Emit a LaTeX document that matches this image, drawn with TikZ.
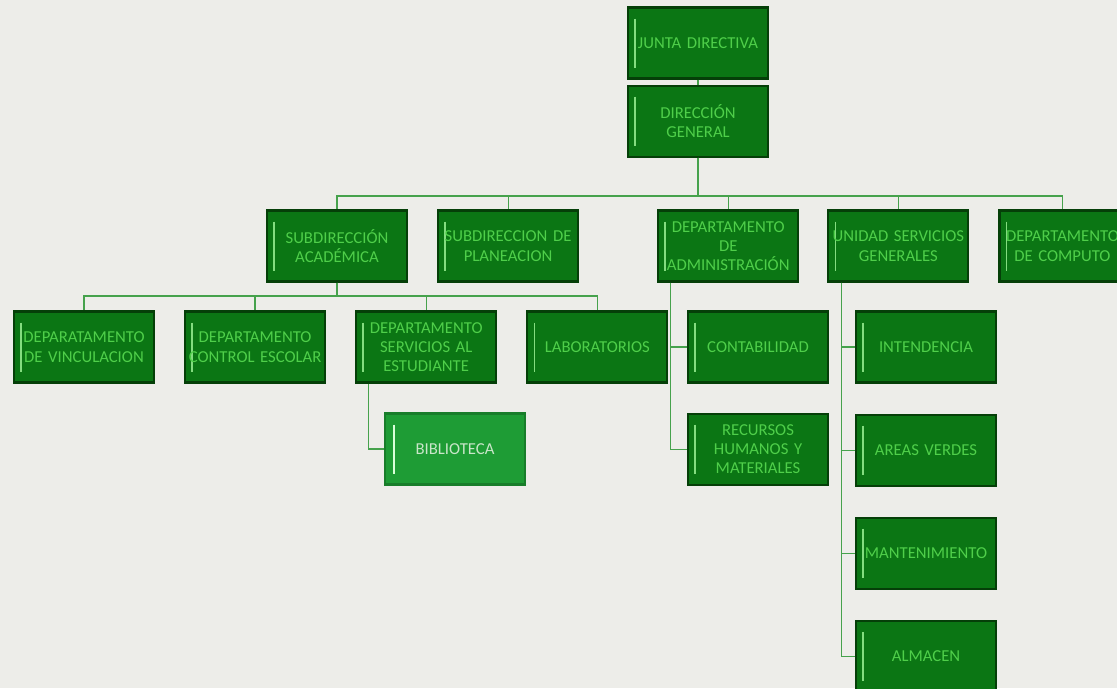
\documentclass[tikz,border=0pt]{standalone}
\usepackage{fontspec}
\setmainfont{Carlito}
\usepackage{xcolor}
\usepackage{tikz}
\usetikzlibrary{positioning}
\definecolor{PaperWhite}{HTML}{EDEDE9}
\definecolor{BoxGreen}{HTML}{0B7614}
\definecolor{EdgeGreen}{HTML}{053F08}
\definecolor{TextGreen}{HTML}{4FCF4A}
\definecolor{LineGreen}{HTML}{46A24C}
\definecolor{LightBox}{HTML}{1E9C35}
\definecolor{LightText}{HTML}{C9E6C9}

\begin{document}
\begin{tikzpicture}[node distance=0.58cm,
        unit/.style={rectangle, draw=EdgeGreen, line width=1.2pt, fill=BoxGreen, text=TextGreen, minimum width=2.8cm, minimum height=1.42cm, text width=2.7cm, inner sep=0pt, align=center, font=\fontsize{9.5}{11}\selectfont,
            path picture={\draw[TextGreen!70!white, line width=0.9pt] ([xshift=0.14cm,yshift=-0.22cm]path picture bounding box.north west) -- ([xshift=0.14cm,yshift=0.22cm]path picture bounding box.south west);}},
        libro/.style={unit, draw=LightBox!80!black, fill=LightBox, text=LightText,
            path picture={\draw[white!85!green, line width=1.2pt] ([xshift=0.18cm,yshift=-0.22cm]path picture bounding box.north west) -- ([xshift=0.18cm,yshift=0.22cm]path picture bounding box.south west);}},
        link/.style={draw=LineGreen, line width=0.7pt}
    ]
        \fill[PaperWhite] (0,0) rectangle (22.34,-13.76);
        \useasboundingbox (0,0) rectangle (22.34,-13.76);

        \node [unit] (junta) at (13.96,-0.86) {JUNTA DIRECTIVA};
        \node [unit, below=0.1cm of junta] (direccion) {DIRECCIÓN\\GENERAL};

        \node [unit] (academica) at (6.74,-4.92) {SUBDIRECCIÓN\\ACADÉMICA};
        \node [unit, right=of academica] (planeacion) {SUBDIRECCION DE\\PLANEACION};
        \node [unit, right=1.56cm of planeacion] (administracion) {DEPARTAMENTO\\DE\\ADMINISTRACIÓN};
        \node [unit, right=0.56cm of administracion] (servgen) {UNIDAD SERVICIOS\\GENERALES};
        \node [unit, right=of servgen, minimum width=2.52cm, text width=2.5cm] (computo) {DEPARTAMENTO\\DE COMPUTO};

        \node [unit] (vinculacion) at (1.68,-6.94) {DEPARATAMENTO\\DE VINCULACION};
        \node [unit, right=of vinculacion] (escolar) {DEPARTAMENTO\\CONTROL ESCOLAR};
        \node [unit, right=of escolar] (estudiante) {DEPARTAMENTO\\SERVICIOS AL\\ESTUDIANTE};
        \node [unit, right=of estudiante] (laboratorios) {LABORATORIOS};
        \node [libro] (biblioteca) at (9.1,-8.98) {BIBLIOTECA};

        \node [unit] (contabilidad) at (15.16,-6.94) {CONTABILIDAD};
        \node [unit, below=of contabilidad] (recursos) {RECURSOS\\HUMANOS Y\\MATERIALES};

        \node [unit] (intendencia) at (18.52,-6.94) {INTENDENCIA};
        \node [unit, below=0.6cm of intendencia] (areas) {AREAS VERDES};
        \node [unit, below=0.6cm of areas] (mantenimiento) {MANTENIMIENTO};
        \node [unit, below=0.6cm of mantenimiento] (almacen) {ALMACEN};

        \coordinate (bus2) at (0,-3.92);
        \coordinate (bus3) at (0,-5.92);

        \draw [link] (junta) -- (direccion);
        \foreach \n in {academica, planeacion, administracion, servgen, computo}
            \draw [link] (direccion.south) -- (direccion.south |- bus2) -| (\n.north);
        \foreach \n in {vinculacion, escolar, estudiante, laboratorios}
            \draw [link] (academica.south) -- (academica.south |- bus3) -| (\n.north);
        \draw [link] ([xshift=0.26cm]estudiante.south west) |- (biblioteca.west);
        \foreach \n in {contabilidad, recursos}
            \draw [link] ([xshift=0.26cm]administracion.south west) |- (\n.west);
        \foreach \n in {intendencia, areas, mantenimiento, almacen}
            \draw [link] ([xshift=0.28cm]servgen.south west) |- (\n.west);
    \end{tikzpicture}
\end{document}
